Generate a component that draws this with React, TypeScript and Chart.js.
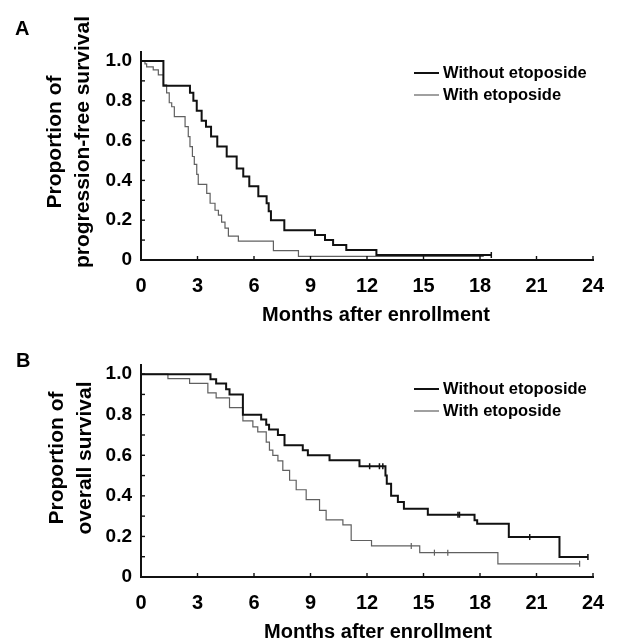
import React, { useEffect, useRef } from 'react';
import { Chart, registerables } from 'chart.js';

Chart.register(...registerables);

// ---------- data ----------
const seriesLabels = ['Without etoposide', 'With etoposide'];
const monthTicks = [0, 3, 6, 9, 12, 15, 18, 21, 24];
const yTickValues = [0, 0.2, 0.4, 0.6, 0.8, 1.0];
const yMinorTicks = [0.1, 0.2, 0.3, 0.4, 0.5, 0.6, 0.7, 0.8, 0.9, 1.0];

// Panel A: progression-free survival (time in months -> proportion after step)
const pfsWithoutT = [0, 1.19, 2.6, 2.78, 2.96, 3.22, 3.45, 3.72, 4.05, 4.55, 5.08, 5.43, 5.75, 6.23, 6.67, 6.78, 6.9, 7.61, 9.24, 9.77, 10.2, 10.9, 12.5, 18.6];
const pfsWithoutS = [1.0, 0.875, 0.84, 0.80, 0.75, 0.70, 0.67, 0.62, 0.57, 0.52, 0.46, 0.42, 0.37, 0.32, 0.285, 0.245, 0.20, 0.15, 0.125, 0.10, 0.075, 0.05, 0.025, 0.025];
const pfsWithT = [0, 0.21, 0.3, 0.65, 0.92, 1.19, 1.36, 1.5, 1.63, 1.77, 2.34, 2.51, 2.6, 2.73, 2.83, 2.96, 3.04, 3.49, 3.67, 3.93, 4.11, 4.28, 4.46, 4.64, 5.17, 7.03, 8.36, 18.2];
const pfsWithS = [1.0, 0.985, 0.97, 0.955, 0.93, 0.88, 0.84, 0.79, 0.77, 0.72, 0.67, 0.62, 0.57, 0.52, 0.48, 0.43, 0.38, 0.335, 0.285, 0.25, 0.225, 0.19, 0.16, 0.12, 0.095, 0.047, 0.018, 0.018];
const pfsWithoutCensorT = [18.6];
const pfsWithoutCensorS = [0.025];
const pfsWithCensorT: number[] = [];
const pfsWithCensorS: number[] = [];

// Panel B: overall survival
const osWithoutT = [0, 3.69, 3.99, 4.52, 4.7, 5.41, 6.38, 6.65, 6.8, 7.27, 7.62, 8.59, 8.86, 10.01, 11.6, 12.98, 13.05, 13.28, 13.64, 13.96, 15.23, 17.71, 17.85, 19.53, 22.22, 23.73];
const osWithoutS = [1.0, 0.975, 0.954, 0.925, 0.9, 0.8, 0.776, 0.75, 0.727, 0.70, 0.65, 0.625, 0.60, 0.575, 0.546, 0.50, 0.46, 0.40, 0.37, 0.336, 0.307, 0.28, 0.263, 0.197, 0.098, 0.098];
const osWithT = [0, 1.43, 2.58, 3.55, 3.99, 4.7, 5.41, 5.94, 6.2, 6.65, 6.82, 7.0, 7.27, 7.53, 7.89, 8.24, 8.77, 9.48, 9.83, 10.72, 11.16, 12.24, 14.8, 18.95, 23.29];
const osWithS = [1.0, 0.978, 0.954, 0.908, 0.883, 0.835, 0.77, 0.74, 0.715, 0.665, 0.625, 0.60, 0.572, 0.526, 0.477, 0.43, 0.381, 0.328, 0.282, 0.257, 0.18, 0.153, 0.12, 0.065, 0.065];
const osWithoutCensorT = [12.14, 12.66, 12.84, 16.83, 16.91, 20.64, 23.73];
const osWithoutCensorS = [0.546, 0.546, 0.546, 0.307, 0.307, 0.197, 0.098];
const osWithCensorT = [14.35, 15.58, 16.29, 23.29];
const osWithCensorS = [0.153, 0.12, 0.12, 0.065];

// ---------- styling ----------
const FONT = '"Liberation Sans", Arial, Helvetica, sans-serif';
const BLACK = '#111111';
const GRAY = '#606060';

const pts = (t: number[], s: number[]) => t.map((x, i) => ({ x, y: s[i] }));

const decorPlugin = {
  id: 'decor',
  afterDraw(chart: any, _args: any, opts: any) {
    const { ctx, chartArea, scales } = chart;
    const xs = scales.x;
    const ys = scales.y;
    ctx.save();
    // inward tick marks
    ctx.strokeStyle = BLACK;
    ctx.lineWidth = 1.4;
    monthTicks.forEach((m) => {
      if (m === 0) return;
      const px = xs.getPixelForValue(m);
      ctx.beginPath();
      ctx.moveTo(px, chartArea.bottom);
      ctx.lineTo(px, chartArea.bottom - 4);
      ctx.stroke();
    });
    yMinorTicks.forEach((v) => {
      const py = ys.getPixelForValue(v);
      ctx.beginPath();
      ctx.moveTo(chartArea.left, py);
      ctx.lineTo(chartArea.left + 4, py);
      ctx.stroke();
    });

    ctx.fillStyle = '#000';
    // panel letter
    ctx.font = `bold 20px ${FONT}`;
    ctx.textAlign = 'left';
    ctx.textBaseline = 'middle';
    ctx.fillText(opts.letter, opts.letterX, opts.letterY);

    // y title (two lines, rotated)
    ctx.save();
    ctx.translate(opts.yTitleX, opts.yTitleY);
    ctx.rotate(-Math.PI / 2);
    ctx.font = `bold 21px ${FONT}`;
    ctx.textAlign = 'center';
    ctx.textBaseline = 'middle';
    opts.yTitle.forEach((line: string, i: number) => ctx.fillText(line, 0, i * 28));
    ctx.restore();

    // x title
    ctx.font = `bold 20px ${FONT}`;
    ctx.textAlign = 'center';
    ctx.textBaseline = 'middle';
    ctx.fillText(opts.xTitle, opts.xTitleX, opts.xTitleY);

    // legend
    ctx.font = `bold 16.5px ${FONT}`;
    ctx.textAlign = 'left';
    ctx.textBaseline = 'middle';
    [0, 1].forEach((i) => {
      const ds = chart.data.datasets[i];
      const y = opts.legendY + i * opts.legendGap;
      ctx.strokeStyle = ds.borderColor;
      ctx.lineWidth = ds.borderWidth;
      ctx.beginPath();
      ctx.moveTo(opts.legendX1, y);
      ctx.lineTo(opts.legendX2, y);
      ctx.stroke();
      ctx.fillStyle = '#000';
      ctx.fillText(ds.label, opts.legendTextX, y);
    });
    ctx.restore();
  },
};

type PanelProps = {
  top: number;
  height: number;
  padTop: number;
  xAxisH: number;
  withoutT: number[];
  withoutS: number[];
  withT: number[];
  withS: number[];
  cWithoutT: number[];
  cWithoutS: number[];
  cWithT: number[];
  cWithS: number[];
  decor: any;
};

function Panel(p: PanelProps) {
  const ref = useRef<HTMLCanvasElement | null>(null);
  useEffect(() => {
    if (!ref.current) return;
    const chart = new Chart(ref.current, {
      type: 'line',
      data: {
        datasets: [
          {
            label: seriesLabels[0],
            data: pts(p.withoutT, p.withoutS),
            borderColor: BLACK,
            borderWidth: 2,
            stepped: 'before',
            pointRadius: 0,
            fill: false,
          },
          {
            label: seriesLabels[1],
            data: pts(p.withT, p.withS),
            borderColor: GRAY,
            borderWidth: 1.2,
            stepped: 'before',
            pointRadius: 0,
            fill: false,
          },
          {
            type: 'scatter',
            label: 'censor-without',
            data: pts(p.cWithoutT, p.cWithoutS),
            pointStyle: 'line',
            rotation: 90,
            pointRadius: 3,
            borderColor: BLACK,
            borderWidth: 1.5,
            showLine: false,
          } as any,
          {
            type: 'scatter',
            label: 'censor-with',
            data: pts(p.cWithT, p.cWithS),
            pointStyle: 'line',
            rotation: 90,
            pointRadius: 3,
            borderColor: GRAY,
            borderWidth: 1.2,
            showLine: false,
          } as any,
        ],
      },
      options: {
        animation: false,
        responsive: false,
        maintainAspectRatio: false,
        parsing: false as any,
        layout: { padding: { left: 0, right: 31, top: p.padTop, bottom: 0 } },
        plugins: {
          legend: { display: false },
          tooltip: { enabled: false },
          decor: p.decor,
        } as any,
        scales: {
          x: {
            type: 'linear',
            min: 0,
            max: 24,
            grid: { display: false, drawTicks: false },
            border: { display: true, color: BLACK, width: 2 },
            afterBuildTicks: (scale: any) => {
              scale.ticks = monthTicks.map((v) => ({ value: v }));
            },
            afterFit: (scale: any) => {
              scale.height = p.xAxisH;
            },
            ticks: {
              padding: 14,
              color: '#000',
              font: { family: FONT, size: 20, weight: 'bold' },
              maxRotation: 0,
              autoSkip: false,
              callback: (v: any) => String(v),
            },
          },
          y: {
            type: 'linear',
            min: 0,
            max: 1.045,
            grid: { display: false, drawTicks: false },
            border: { display: true, color: BLACK, width: 2 },
            afterBuildTicks: (scale: any) => {
              scale.ticks = yTickValues.map((v) => ({ value: v }));
            },
            afterFit: (scale: any) => {
              scale.width = 141;
            },
            ticks: {
              padding: 9,
              color: '#000',
              font: { family: FONT, size: 19, weight: 'bold' },
              autoSkip: false,
              callback: (v: any) => (Number(v) === 0 ? '0' : Number(v).toFixed(1)),
            },
          },
        },
      } as any,
      plugins: [decorPlugin as any],
    });
    return () => chart.destroy();
  }, []);
  return (
    <canvas
      ref={ref}
      width={624}
      height={p.height}
      style={{ position: 'absolute', left: 0, top: p.top, width: 624, height: p.height }}
    />
  );
}

export default function App() {
  return (
    <div style={{ position: 'absolute', left: 0, top: 0, width: 624, height: 639, background: '#fff', overflow: 'hidden' }}>
      <Panel
        top={0}
        height={330}
        padTop={52}
        xAxisH={70}
        withoutT={pfsWithoutT}
        withoutS={pfsWithoutS}
        withT={pfsWithT}
        withS={pfsWithS}
        cWithoutT={pfsWithoutCensorT}
        cWithoutS={pfsWithoutCensorS}
        cWithT={pfsWithCensorT}
        cWithS={pfsWithCensorS}
        decor={{
          letter: 'A',
          letterX: 15,
          letterY: 29,
          yTitle: ['Proportion of', 'progression-free survival'],
          yTitleX: 55,
          yTitleY: 142,
          xTitle: 'Months after enrollment',
          xTitleX: 376,
          xTitleY: 315,
          legendX1: 414,
          legendX2: 439,
          legendTextX: 443,
          legendY: 73,
          legendGap: 22,
        }}
      />
      <Panel
        top={318}
        height={321}
        padTop={47}
        xAxisH={62}
        withoutT={osWithoutT}
        withoutS={osWithoutS}
        withT={osWithT}
        withS={osWithS}
        cWithoutT={osWithoutCensorT}
        cWithoutS={osWithoutCensorS}
        cWithT={osWithCensorT}
        cWithS={osWithCensorS}
        decor={{
          letter: 'B',
          letterX: 16,
          letterY: 43,
          yTitle: ['Proportion of', 'overall survival'],
          yTitleX: 57,
          yTitleY: 140,
          xTitle: 'Months after enrollment',
          xTitleX: 378,
          xTitleY: 314,
          legendX1: 414,
          legendX2: 439,
          legendTextX: 443,
          legendY: 71,
          legendGap: 22,
        }}
      />
    </div>
  );
}
